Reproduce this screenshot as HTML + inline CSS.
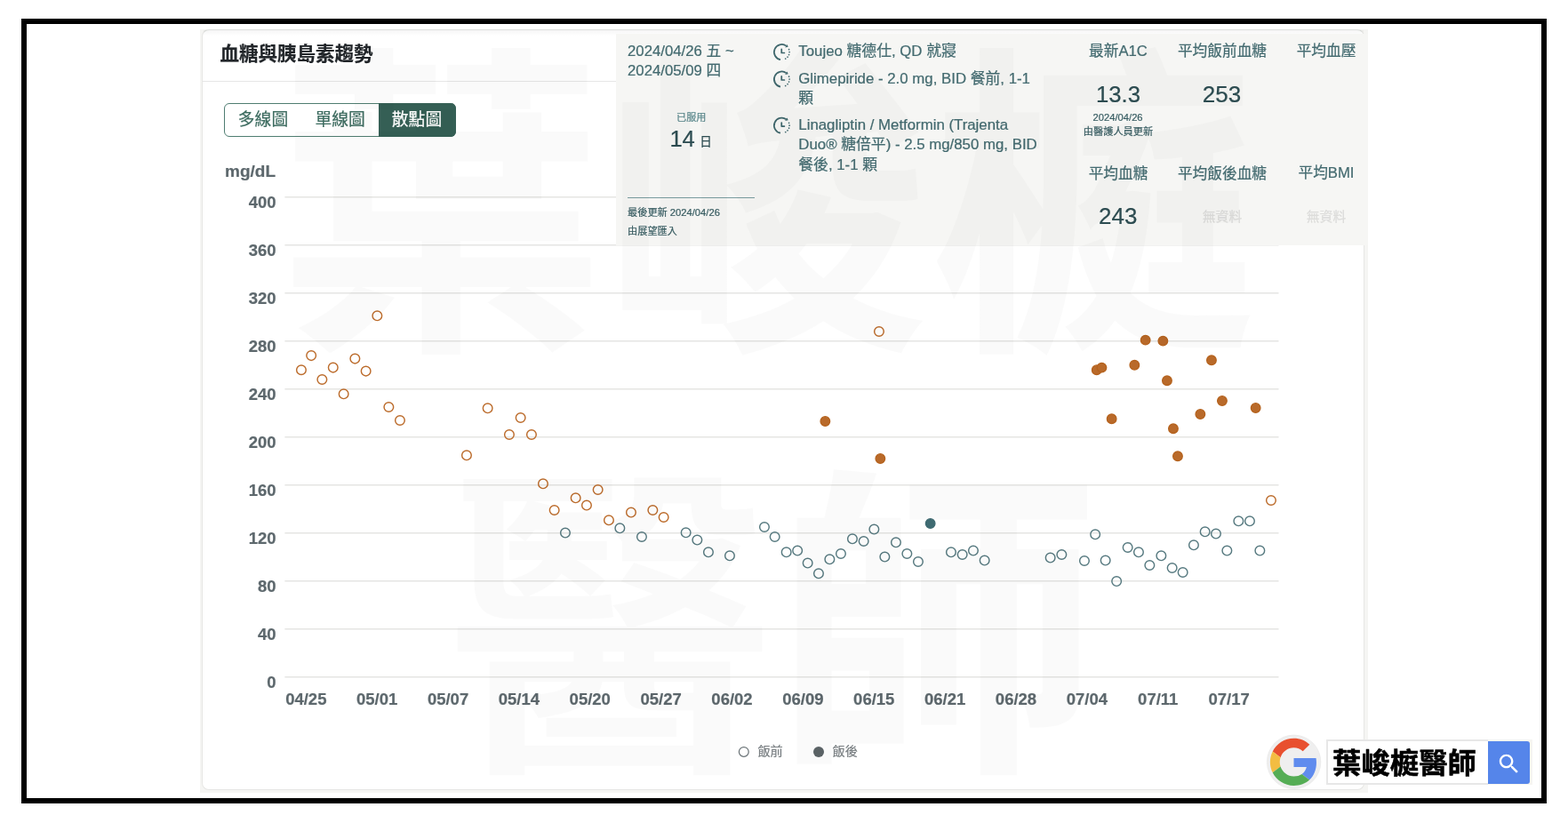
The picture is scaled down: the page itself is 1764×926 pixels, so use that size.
<!DOCTYPE html>
<html lang="zh-Hant"><head><meta charset="utf-8"><title>血糖與胰島素趨勢</title>
<style>
html,body{margin:0;padding:0;background:#fff;overflow:hidden;}
html{width:1764px;height:926px;}
body{width:1764px;height:926px;position:relative;overflow:hidden;font-family:"Liberation Sans","Noto Sans CJK TC",sans-serif;}
.abs{position:absolute;}
.t{position:absolute;white-space:nowrap;line-height:1.3;-webkit-text-stroke:0.22px currentColor;}
svg.ov{position:absolute;left:0;top:0;overflow:visible;}
body{will-change:transform;}
</style></head><body>
<div class="abs" style="left:24px;top:21px;width:1716px;height:883px;box-sizing:border-box;border:6px solid #000;"></div><div class="abs" style="left:225px;top:32.9px;width:1313.9px;height:858.8000000000001px;background:#f5f5f3;"></div><div class="abs" style="left:227.2px;top:32.9px;width:1308.0px;height:855.7px;box-sizing:border-box;background:#fff;border:1.2px solid #e6e6e4;border-top-color:#dddfdd;border-radius:8px;"></div><div class="abs" style="left:229px;top:34.1px;width:1305px;height:6px;background:linear-gradient(rgba(0,0,0,0.04),rgba(0,0,0,0));"></div><div class="abs" style="left:228px;top:90.7px;width:470px;height:1.2px;background:#e6e6e6;"></div><div class="t" style="top:47.88px;font-size:21.5px;color:#212529;font-weight:700;left:247.60px;">血糖與胰島素趨勢</div><div class="abs" style="left:252px;top:115.5px;width:261px;height:38.5px;box-sizing:border-box;border:1.3px solid #4f7d71;border-radius:6px;background:#fff;"></div><div class="abs" style="left:426.2px;top:115.5px;width:86.8px;height:38.5px;background:#355f55;border-radius:0 6px 6px 0;"></div><div class="t" style="top:123.27px;font-size:18.8px;color:#3d6c60;left:176.00px;width:240px;text-align:center;">多線圖</div><div class="t" style="top:123.27px;font-size:18.8px;color:#3d6c60;left:262.70px;width:240px;text-align:center;">單線圖</div><div class="t" style="top:123.27px;font-size:18.8px;color:#ffffff;left:349.00px;width:240px;text-align:center;">散點圖</div><div class="t" style="top:180.97px;font-size:19px;color:#5d686d;font-weight:700;left:253.00px;">mg/dL</div><div class="t" style="top:215.86px;font-size:18.5px;color:#5d686d;font-weight:700;left:110.60px;width:200px;text-align:right;">400</div><div class="t" style="top:269.86px;font-size:18.5px;color:#5d686d;font-weight:700;left:110.60px;width:200px;text-align:right;">360</div><div class="t" style="top:323.86px;font-size:18.5px;color:#5d686d;font-weight:700;left:110.60px;width:200px;text-align:right;">320</div><div class="t" style="top:377.86px;font-size:18.5px;color:#5d686d;font-weight:700;left:110.60px;width:200px;text-align:right;">280</div><div class="t" style="top:431.86px;font-size:18.5px;color:#5d686d;font-weight:700;left:110.60px;width:200px;text-align:right;">240</div><div class="t" style="top:485.86px;font-size:18.5px;color:#5d686d;font-weight:700;left:110.60px;width:200px;text-align:right;">200</div><div class="t" style="top:539.86px;font-size:18.5px;color:#5d686d;font-weight:700;left:110.60px;width:200px;text-align:right;">160</div><div class="t" style="top:593.86px;font-size:18.5px;color:#5d686d;font-weight:700;left:110.60px;width:200px;text-align:right;">120</div><div class="t" style="top:647.86px;font-size:18.5px;color:#5d686d;font-weight:700;left:110.60px;width:200px;text-align:right;">80</div><div class="t" style="top:701.86px;font-size:18.5px;color:#5d686d;font-weight:700;left:110.60px;width:200px;text-align:right;">40</div><div class="t" style="top:755.86px;font-size:18.5px;color:#5d686d;font-weight:700;left:110.60px;width:200px;text-align:right;">0</div><svg class="ov" width="1764" height="926" viewBox="0 0 1764 926"><g stroke="#e5e5e3" stroke-width="1.5" fill="none"><path d="M320.4 221.70H1438.5"/><path d="M320.4 275.70H1438.5"/><path d="M320.4 329.70H1438.5"/><path d="M320.4 383.70H1438.5"/><path d="M320.4 437.70H1438.5"/><path d="M320.4 491.70H1438.5"/><path d="M320.4 545.70H1438.5"/><path d="M320.4 599.70H1438.5"/><path d="M320.4 653.70H1438.5"/><path d="M320.4 707.70H1438.5"/><path d="M320.4 761.70H1438.5"/></g></svg><div class="t" style="top:774.86px;font-size:18.5px;color:#5d686d;font-weight:700;left:224.30px;width:240px;text-align:center;">04/25</div><div class="t" style="top:774.86px;font-size:18.5px;color:#5d686d;font-weight:700;left:304.17px;width:240px;text-align:center;">05/01</div><div class="t" style="top:774.86px;font-size:18.5px;color:#5d686d;font-weight:700;left:384.04px;width:240px;text-align:center;">05/07</div><div class="t" style="top:774.86px;font-size:18.5px;color:#5d686d;font-weight:700;left:463.91px;width:240px;text-align:center;">05/14</div><div class="t" style="top:774.86px;font-size:18.5px;color:#5d686d;font-weight:700;left:543.78px;width:240px;text-align:center;">05/20</div><div class="t" style="top:774.86px;font-size:18.5px;color:#5d686d;font-weight:700;left:623.65px;width:240px;text-align:center;">05/27</div><div class="t" style="top:774.86px;font-size:18.5px;color:#5d686d;font-weight:700;left:703.52px;width:240px;text-align:center;">06/02</div><div class="t" style="top:774.86px;font-size:18.5px;color:#5d686d;font-weight:700;left:783.39px;width:240px;text-align:center;">06/09</div><div class="t" style="top:774.86px;font-size:18.5px;color:#5d686d;font-weight:700;left:863.26px;width:240px;text-align:center;">06/15</div><div class="t" style="top:774.86px;font-size:18.5px;color:#5d686d;font-weight:700;left:943.13px;width:240px;text-align:center;">06/21</div><div class="t" style="top:774.86px;font-size:18.5px;color:#5d686d;font-weight:700;left:1023.00px;width:240px;text-align:center;">06/28</div><div class="t" style="top:774.86px;font-size:18.5px;color:#5d686d;font-weight:700;left:1102.87px;width:240px;text-align:center;">07/04</div><div class="t" style="top:774.86px;font-size:18.5px;color:#5d686d;font-weight:700;left:1182.74px;width:240px;text-align:center;">07/11</div><div class="t" style="top:774.86px;font-size:18.5px;color:#5d686d;font-weight:700;left:1262.61px;width:240px;text-align:center;">07/17</div><svg class="ov" width="1764" height="926" viewBox="0 0 1764 926"><g fill="none" stroke="#bc6c2c" stroke-width="1.45"><circle cx="338.95" cy="416.2" r="5.3"/><circle cx="350.15" cy="400.1" r="5.3"/><circle cx="362.35" cy="427.0" r="5.3"/><circle cx="374.75" cy="413.6" r="5.3"/><circle cx="386.65" cy="443.3" r="5.3"/><circle cx="399.35" cy="403.6" r="5.3"/><circle cx="411.65" cy="417.6" r="5.3"/><circle cx="424.35" cy="355.3" r="5.3"/><circle cx="437.35" cy="458.0" r="5.3"/><circle cx="449.95" cy="473.0" r="5.3"/><circle cx="524.95" cy="512.3" r="5.3"/><circle cx="548.65" cy="459.3" r="5.3"/><circle cx="572.95" cy="489.0" r="5.3"/><circle cx="585.65" cy="470.0" r="5.3"/><circle cx="597.95" cy="489.0" r="5.3"/><circle cx="610.95" cy="544.3" r="5.3"/><circle cx="623.65" cy="574.0" r="5.3"/><circle cx="647.65" cy="560.3" r="5.3"/><circle cx="659.95" cy="568.6" r="5.3"/><circle cx="672.65" cy="551.0" r="5.3"/><circle cx="684.95" cy="585.3" r="5.3"/><circle cx="709.95" cy="576.6" r="5.3"/><circle cx="734.35" cy="574.0" r="5.3"/><circle cx="746.65" cy="582.0" r="5.3"/><circle cx="988.95" cy="373.0" r="5.3"/><circle cx="1429.95" cy="563.0" r="5.3"/></g><g fill="none" stroke="#577a80" stroke-width="1.45"><circle cx="635.95" cy="599.6" r="5.3"/><circle cx="697.35" cy="594.3" r="5.3"/><circle cx="721.95" cy="604.0" r="5.3"/><circle cx="771.65" cy="599.3" r="5.3"/><circle cx="784.35" cy="607.6" r="5.3"/><circle cx="796.95" cy="621.3" r="5.3"/><circle cx="820.95" cy="625.3" r="5.3"/><circle cx="859.95" cy="593.0" r="5.3"/><circle cx="871.65" cy="604.0" r="5.3"/><circle cx="884.65" cy="621.3" r="5.3"/><circle cx="897.15" cy="619.6" r="5.3"/><circle cx="908.65" cy="633.6" r="5.3"/><circle cx="920.95" cy="645.3" r="5.3"/><circle cx="933.35" cy="629.3" r="5.3"/><circle cx="945.95" cy="623.0" r="5.3"/><circle cx="958.95" cy="606.3" r="5.3"/><circle cx="971.65" cy="609.0" r="5.3"/><circle cx="983.35" cy="595.6" r="5.3"/><circle cx="995.35" cy="626.6" r="5.3"/><circle cx="1007.95" cy="610.3" r="5.3"/><circle cx="1020.35" cy="623.0" r="5.3"/><circle cx="1032.95" cy="632.0" r="5.3"/><circle cx="1069.95" cy="621.3" r="5.3"/><circle cx="1082.65" cy="624.0" r="5.3"/><circle cx="1094.95" cy="619.6" r="5.3"/><circle cx="1107.65" cy="630.6" r="5.3"/><circle cx="1181.65" cy="627.6" r="5.3"/><circle cx="1194.35" cy="624.0" r="5.3"/><circle cx="1219.95" cy="631.0" r="5.3"/><circle cx="1232.15" cy="601.3" r="5.3"/><circle cx="1243.65" cy="630.6" r="5.3"/><circle cx="1256.15" cy="654.1" r="5.3"/><circle cx="1268.65" cy="616.0" r="5.3"/><circle cx="1280.95" cy="621.3" r="5.3"/><circle cx="1293.35" cy="636.0" r="5.3"/><circle cx="1306.35" cy="625.3" r="5.3"/><circle cx="1318.65" cy="639.0" r="5.3"/><circle cx="1330.65" cy="644.0" r="5.3"/><circle cx="1342.95" cy="613.3" r="5.3"/><circle cx="1355.65" cy="598.3" r="5.3"/><circle cx="1367.95" cy="600.6" r="5.3"/><circle cx="1380.35" cy="619.6" r="5.3"/><circle cx="1393.35" cy="586.3" r="5.3"/><circle cx="1405.95" cy="586.3" r="5.3"/><circle cx="1417.35" cy="619.6" r="5.3"/></g><g fill="#b96a2a" stroke="#b5621d" stroke-width="1.3"><circle cx="928.35" cy="474.0" r="5.3"/><circle cx="990.35" cy="516.0" r="5.3"/><circle cx="1233.75" cy="416.2" r="5.3"/><circle cx="1239.45" cy="413.6" r="5.3"/><circle cx="1250.65" cy="471.3" r="5.3"/><circle cx="1276.35" cy="410.8" r="5.3"/><circle cx="1288.65" cy="382.6" r="5.3"/><circle cx="1308.35" cy="383.6" r="5.3"/><circle cx="1312.95" cy="428.3" r="5.3"/><circle cx="1319.95" cy="482.3" r="5.3"/><circle cx="1324.95" cy="513.3" r="5.3"/><circle cx="1350.35" cy="466.0" r="5.3"/><circle cx="1362.95" cy="405.3" r="5.3"/><circle cx="1374.95" cy="451.0" r="5.3"/><circle cx="1412.65" cy="459.0" r="5.3"/></g><g fill="#3f6b72" stroke="#3f6b72" stroke-width="1.3"><circle cx="1046.65" cy="589.0" r="5.3"/></g><circle cx="836.8" cy="845.9" r="5.4" fill="none" stroke="#6a7377" stroke-width="1.25"/><circle cx="921" cy="846" r="6" fill="#5c6468"/></svg><div class="t" style="top:836.25px;font-size:14.2px;color:#787e81;left:852.40px;">飯前</div><div class="t" style="top:836.25px;font-size:14.2px;color:#787e81;left:936.60px;">飯後</div><div class="abs" style="left:693px;top:37.9px;width:845.9000000000001px;height:238.29999999999998px;background:#f6f6f4;"></div><div class="t" style="top:46.91px;font-size:16.75px;color:#446b70;left:706.00px;">2024/04/26 五 ~</div><div class="t" style="top:69.41px;font-size:16.75px;color:#446b70;left:706.00px;">2024/05/09 四</div><div class="t" style="top:125.14px;font-size:11.1px;color:#5d8a8e;left:657.70px;width:240px;text-align:center;">已服用</div><div class="t" style="top:139.69px;font-size:25.6px;color:#2d4d52;left:753.40px;">14</div><div class="t" style="top:151.15px;font-size:13.6px;color:#2d4d52;left:787.30px;">日</div><div class="abs" style="left:706px;top:221.5px;width:143.3px;height:1px;background:#7a9da0;"></div><div class="t" style="top:231.84px;font-size:11.2px;color:#3a5f64;left:706.00px;">最後更新 2024/04/26</div><div class="t" style="top:252.94px;font-size:11.2px;color:#3a5f64;left:706.00px;">由展望匯入</div><svg class="ov" width="1764" height="926" viewBox="0 0 1764 926"><g transform="translate(879.5,58.6)" fill="none" stroke="#3f676c" stroke-linecap="round"><path d="M-1.49 8.47A8.6 8.6 0 1 1 5.05 -6.96" stroke-width="1.75" stroke-linecap="butt"/><path d="M8.08 -2.94A8.6 8.6 0 0 1 1.49 8.47" stroke-width="1.7" stroke-dasharray="0.01 2.98"/><path d="M6.1 -8.7L7.2 -5.9L3.7 -5.2Z" fill="#3f676c" stroke="none"/><path d="M-0.25 -3.2V0.9H2.9" stroke-width="1.7" stroke-linejoin="round"/></g><g transform="translate(879.5,89.1)" fill="none" stroke="#3f676c" stroke-linecap="round"><path d="M-1.49 8.47A8.6 8.6 0 1 1 5.05 -6.96" stroke-width="1.75" stroke-linecap="butt"/><path d="M8.08 -2.94A8.6 8.6 0 0 1 1.49 8.47" stroke-width="1.7" stroke-dasharray="0.01 2.98"/><path d="M6.1 -8.7L7.2 -5.9L3.7 -5.2Z" fill="#3f676c" stroke="none"/><path d="M-0.25 -3.2V0.9H2.9" stroke-width="1.7" stroke-linejoin="round"/></g><g transform="translate(879.5,141.2)" fill="none" stroke="#3f676c" stroke-linecap="round"><path d="M-1.49 8.47A8.6 8.6 0 1 1 5.05 -6.96" stroke-width="1.75" stroke-linecap="butt"/><path d="M8.08 -2.94A8.6 8.6 0 0 1 1.49 8.47" stroke-width="1.7" stroke-dasharray="0.01 2.98"/><path d="M6.1 -8.7L7.2 -5.9L3.7 -5.2Z" fill="#3f676c" stroke="none"/><path d="M-0.25 -3.2V0.9H2.9" stroke-width="1.7" stroke-linejoin="round"/></g></svg><div class="t" style="top:47.14px;font-size:16.82px;color:#446b70;left:898.30px;">Toujeo 糖德仕, QD 就寢</div><div class="t" style="top:77.84px;font-size:16.82px;color:#446b70;left:898.30px;">Glimepiride - 2.0 mg, BID 餐前, 1-1</div><div class="t" style="top:100.44px;font-size:16.82px;color:#446b70;left:898.30px;">顆</div><div class="t" style="top:129.94px;font-size:16.82px;color:#446b70;left:898.30px;">Linagliptin / Metformin (Trajenta</div><div class="t" style="top:152.24px;font-size:16.82px;color:#446b70;left:898.30px;">Duo® 糖倍平) - 2.5 mg/850 mg, BID</div><div class="t" style="top:174.84px;font-size:16.82px;color:#446b70;left:898.30px;">餐後, 1-1 顆</div><div class="t" style="top:47.26px;font-size:16.7px;color:#446b70;left:1138.00px;width:240px;text-align:center;">最新A1C</div><div class="t" style="top:46.86px;font-size:16.7px;color:#446b70;left:1255.00px;width:240px;text-align:center;">平均飯前血糖</div><div class="t" style="top:46.86px;font-size:16.7px;color:#446b70;left:1372.00px;width:240px;text-align:center;">平均血壓</div><div class="t" style="top:90.29px;font-size:25.7px;color:#2d4d52;left:1138.00px;width:240px;text-align:center;">13.3</div><div class="t" style="top:89.99px;font-size:26.0px;color:#2d4d52;left:1254.50px;width:240px;text-align:center;">253</div><div class="t" style="top:125.44px;font-size:11.2px;color:#3a5f64;left:1137.60px;width:240px;text-align:center;">2024/04/26</div><div class="t" style="top:141.44px;font-size:11.2px;color:#3a5f64;left:1138.00px;width:240px;text-align:center;">由醫護人員更新</div><div class="t" style="top:184.76px;font-size:16.7px;color:#446b70;left:1138.00px;width:240px;text-align:center;">平均血糖</div><div class="t" style="top:184.76px;font-size:16.7px;color:#446b70;left:1255.00px;width:240px;text-align:center;">平均飯後血糖</div><div class="t" style="top:184.46px;font-size:16.7px;color:#446b70;left:1372.00px;width:240px;text-align:center;">平均BMI</div><div class="t" style="top:226.79px;font-size:25.9px;color:#2d4d52;left:1137.70px;width:240px;text-align:center;">243</div><div class="t" style="top:234.85px;font-size:14.8px;color:#dcdcda;left:1255.00px;width:240px;text-align:center;">無資料</div><div class="t" style="top:234.85px;font-size:14.8px;color:#dcdcda;left:1372.00px;width:240px;text-align:center;">無資料</div><svg class="abs" aria-hidden="true" style="left:313px;top:43.0px;width:1101px;height:367px;overflow:visible" viewBox="0 -880 3000 1000"><text x="0" y="0" font-size="1000" font-weight="700" fill="rgba(0,0,0,0.02)" font-family="'Liberation Sans','Noto Sans CJK TC',sans-serif">葉峻榳</text></svg><svg class="abs" aria-hidden="true" style="left:502.5px;top:517.0px;width:734px;height:367px;overflow:visible" viewBox="0 -880 2000 1000"><text x="0" y="0" font-size="1000" font-weight="700" fill="rgba(0,0,0,0.02)" font-family="'Liberation Sans','Noto Sans CJK TC',sans-serif">醫師</text></svg><svg class="ov" width="1764" height="926" viewBox="0 0 1764 926"><circle cx="1455.6" cy="857.3" r="30.2" fill="#efefef" stroke="#e9e9e9" stroke-width="0.8"/><g transform="translate(1428.91,830.81) scale(1.108)"><path fill="#e8502f" d="M24 9.5c3.54 0 6.71 1.22 9.21 3.6l6.85-6.85C35.9 2.38 30.47 0 24 0 14.62 0 6.51 5.38 2.56 13.22l7.98 6.19C12.43 13.72 17.74 9.5 24 9.5z"/><path fill="#608cee" d="M46.98 24.55c0-1.57-.15-3.09-.38-4.55H24v9.02h12.94c-.58 2.96-2.26 5.48-4.78 7.18l7.73 6c4.51-4.18 7.09-10.36 7.09-17.65z"/><path fill="#f3bd42" d="M10.53 28.59c-.48-1.45-.76-2.99-.76-4.59s.27-3.14.76-4.59l-7.98-6.19C.92 16.46 0 20.12 0 24c0 3.88.92 7.54 2.56 10.78l7.97-6.19z"/><path fill="#55ad55" d="M24 48c6.48 0 11.93-2.13 15.89-5.81l-7.73-6c-2.15 1.45-4.92 2.3-8.16 2.3-6.26 0-11.57-4.22-13.47-9.91l-7.98 6.19C6.51 42.62 14.62 48 24 48z"/></g></svg><div class="abs" style="left:1492.3px;top:832px;width:231.5px;height:50.5px;box-sizing:border-box;background:#fff;border:2.3px solid #e7e7e7;"></div><div class="abs" style="left:1673.8px;top:832px;width:50px;height:50.5px;background:#f6f5f1;"></div><div class="abs" style="left:1673.8px;top:834.2px;width:47.6px;height:47.5px;background:#5585ea;border-radius:0 3px 3px 0;"></div><svg class="ov" width="1764" height="926" viewBox="0 0 1764 926"><g transform="translate(1683.2,845.1) scale(1.2)"><path fill="#fff" d="M15.5 14h-.79l-.28-.27C15.41 12.59 16 11.11 16 9.5 16 5.91 13.09 3 9.5 3S3 5.91 3 9.5 5.91 16 9.5 16c1.61 0 3.09-.59 4.23-1.57l.27.28v.79l5 4.99L20.49 19l-4.99-5zm-6 0C7.01 14 5 11.99 5 9.5S7.01 5 9.5 5 14 7.01 14 9.5 11.99 14 9.5 14z"/></g></svg><svg class="abs" style="left:1499.4px;top:841.29px;width:162.0px;height:32.4px;overflow:visible" viewBox="0 -440 2500 500"><text x="0" y="0" font-size="500" font-weight="700" fill="#000" stroke="#000" stroke-width="9" stroke-linejoin="round" font-family="'Liberation Sans','Noto Sans CJK TC',sans-serif">葉峻榳醫師</text></svg></body></html>
